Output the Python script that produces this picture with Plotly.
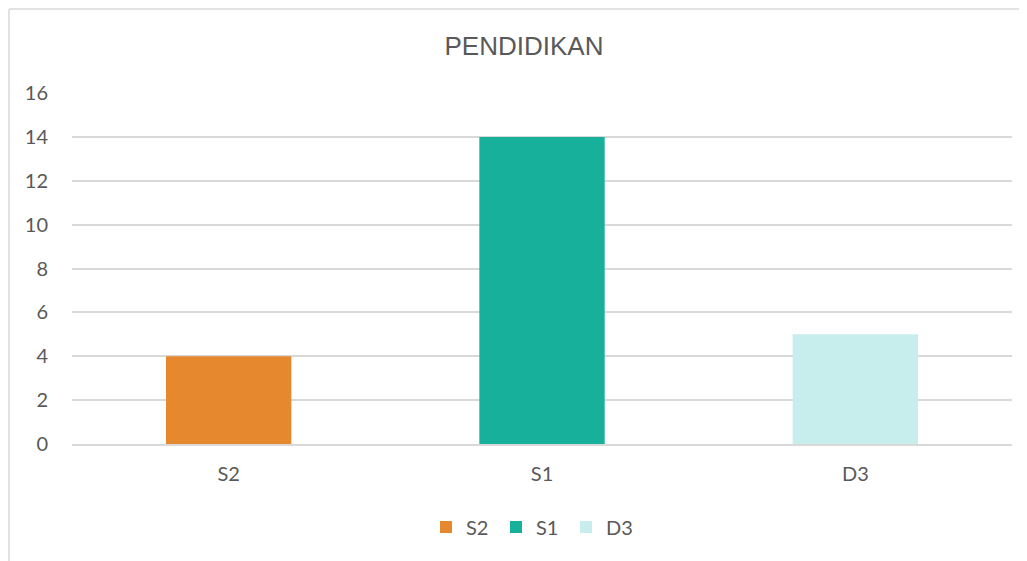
import plotly.graph_objects as go

categories = ["S2", "S1", "D3"]
values = [4, 14, 5]
colors = ["#E6882E", "#17B09A", "#C8EDED"]
y_ticks = [0, 2, 4, 6, 8, 10, 12, 14, 16]

# page body has an 8px margin; work in figure pixel coordinates
OFF = 8
W, H = 1027 - OFF, 561 - OFF
L, R, T, B = 64, 15, 85, 117
pw, ph = W - L - R, H - T - B


def px_to_paper_x(px):
    return (px - OFF - L) / pw


def py_to_paper_y(py):
    return (H - B - (py - OFF)) / ph


fig = go.Figure()
for c, v, col in zip(categories, values, colors):
    fig.add_trace(go.Bar(x=[c], y=[v], name=c, marker=dict(color=col, line=dict(width=0)),
                         width=0.4))

fig.update_layout(
    width=W, height=H,
    margin=dict(l=L, r=R, t=T, b=B),
    paper_bgcolor="white", plot_bgcolor="white",
    barmode="overlay",
    title=dict(text="PENDIDIKAN", x=(524 - OFF) / W, xanchor="center",
               y=1 - (46 - OFF) / H, yanchor="middle",
               font=dict(family="Liberation Sans, Arial", size=26, color="#595959")),
    font=dict(family="Lato, Open Sans, sans-serif", size=20, color="#595959"),
    xaxis=dict(categoryorder="array", categoryarray=categories, showgrid=False,
               showline=True, linecolor="#D9D9D9", linewidth=1.5, ticks="",
               ticklabelstandoff=11, tickfont=dict(size=20, color="#595959")),
    yaxis=dict(range=[0, 16], tickvals=y_ticks, showgrid=True, gridcolor="#D9D9D9",
               gridwidth=1.5, zeroline=False, showline=False, ticks="",
               ticklabelstandoff=23, tickfont=dict(size=20, color="#595959")),
    legend=dict(orientation="h", x=px_to_paper_x(426), xanchor="left",
                y=py_to_paper_y(527), yanchor="middle",
                font=dict(size=20, color="#595959"), itemwidth=30, traceorder="normal",
                entrywidth=25, entrywidthmode="pixels"),
    shapes=[
        dict(type="line", xref="paper", yref="paper",
             x0=px_to_paper_x(9), x1=px_to_paper_x(1040), y0=py_to_paper_y(9), y1=py_to_paper_y(9),
             line=dict(color="#D9D9D9", width=1.5)),
        dict(type="line", xref="paper", yref="paper",
             x0=px_to_paper_x(9), x1=px_to_paper_x(9), y0=py_to_paper_y(9), y1=py_to_paper_y(570),
             line=dict(color="#D9D9D9", width=1.5)),
    ],
)

fig.write_html("out.html")
